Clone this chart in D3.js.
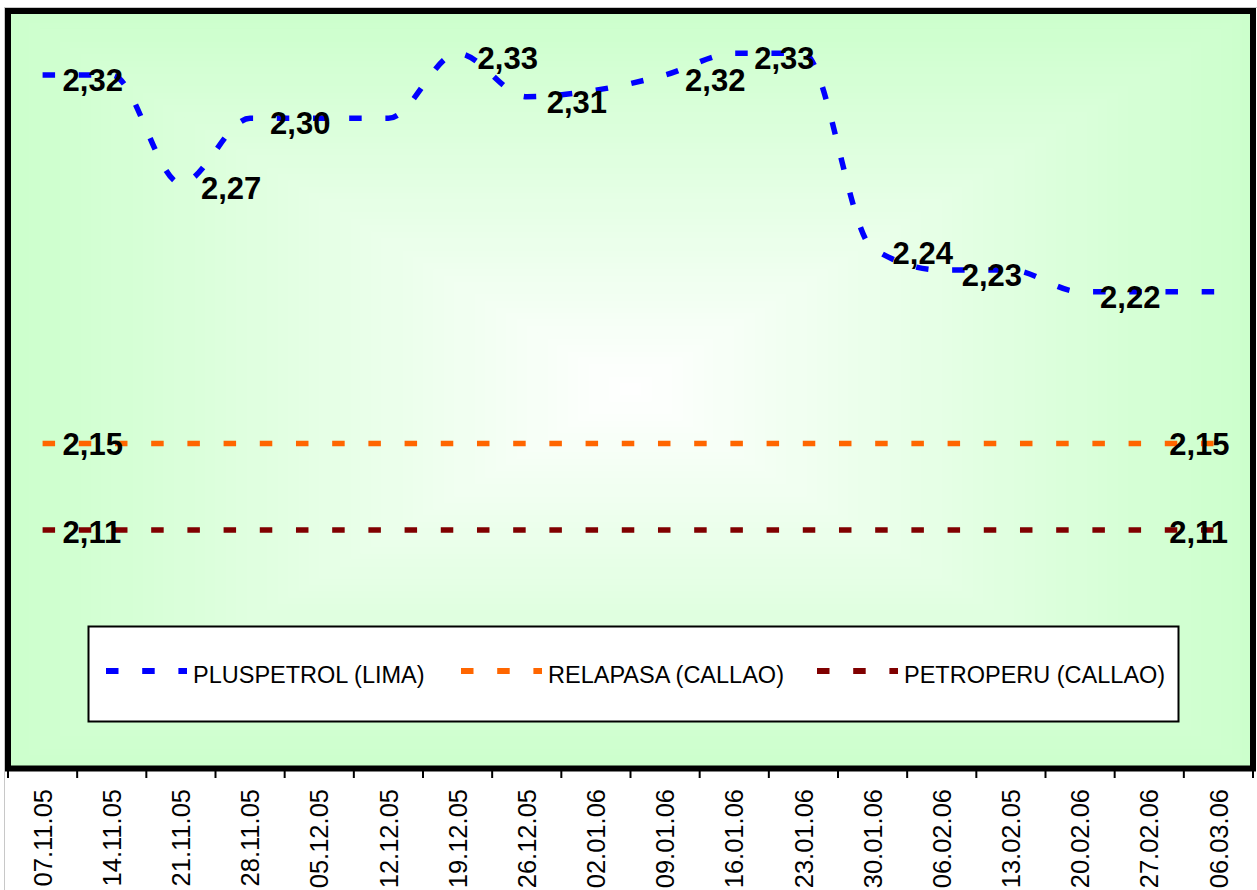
<!DOCTYPE html>
<html>
<head>
<meta charset="utf-8">
<script src="https://cdn.jsdelivr.net/npm/d3@7"></script>
<style>
  body { margin: 0; background: #fff; }
  svg { display: block; font-family: "Liberation Sans", Arial, sans-serif; }
</style>
</head>
<body>
<div id="chart"></div>
<script>
// categories (weeks) and series
const dates = ["07.11.05", "14.11.05", "21.11.05", "28.11.05", "05.12.05", "12.12.05",
  "19.12.05", "26.12.05", "02.01.06", "09.01.06", "16.01.06", "23.01.06",
  "30.01.06", "06.02.06", "13.02.05", "20.02.06", "27.02.06", "06.03.06"];

const pluspetrol = [2.32, 2.32, 2.27, 2.30, 2.30, 2.30, 2.33, 2.31, 2.313, 2.32, 2.33, 2.33,
  2.24, 2.23, 2.23, 2.22, 2.22, 2.22];
const relapasa = [2.15, 2.15, 2.15, 2.15, 2.15, 2.15, 2.15, 2.15, 2.15, 2.15, 2.15, 2.15,
  2.15, 2.15, 2.15, 2.15, 2.15, 2.15];
const petroperu = [2.11, 2.11, 2.11, 2.11, 2.11, 2.11, 2.11, 2.11, 2.11, 2.11, 2.11, 2.11,
  2.11, 2.11, 2.11, 2.11, 2.11, 2.11];

// which points carry a data label
const plusLabels = [0, 2, 3, 6, 7, 9, 10, 12, 13, 15];
const flatLabels = [0, 16];

const seriesNames = ["PLUSPETROL (LIMA)", "RELAPASA (CALLAO)", "PETROPERU (CALLAO)"];

// dimensions
const width = 1257;
const height = 890;

const PLOT_LEFT = 8;
const PLOT_RIGHT = 1253;
const PLOT_TOP = 10;
const PLOT_BOTTOM = 768.5;

const GREEN = "#ccffcc";
const LINE_W = 5.5;
const DASH = "12.5 23.7";

const COLORS = ["#0000ff", "#ff6600", "#800000"];

const svg = d3.select("#chart")
  .append("svg")
  .attr("width", width)
  .attr("height", height);

const x = d3.scaleBand()
  .domain(dates)
  .range([PLOT_LEFT, PLOT_RIGHT]);

const y = d3.scaleLinear()
  .domain([2.0, 2.35])
  .range([PLOT_BOTTOM, PLOT_TOP]);

const cx = (d) => x(d) + x.bandwidth() / 2;

// outer chart area border (thin gray)
svg.append("rect")
  .attr("x", 4.5).attr("y", 7.5)
  .attr("width", width).attr("height", height)
  .attr("fill", "none")
  .attr("stroke", "#c8c8c8")
  .attr("stroke-width", 1);

// ------ rectangular "from center" gradient, built from nested rects ------
const midX = (PLOT_LEFT + PLOT_RIGHT) / 2;
const midY = (PLOT_TOP + PLOT_BOTTOM) / 2;
const halfW = (PLOT_RIGHT - PLOT_LEFT) / 2;
const halfH = (PLOT_BOTTOM - PLOT_TOP) / 2;
const bgColor = d3.interpolateRgb("#ffffff", GREEN);
const STEPS = 60;

const bg = svg.append("g");
d3.range(STEPS, 0, -1).forEach((k) => {
  const t = k / STEPS;
  bg.append("rect")
    .attr("x", midX - halfW * t)
    .attr("y", midY - halfH * t)
    .attr("width", 2 * halfW * t)
    .attr("height", 2 * halfH * t)
    .attr("fill", k === STEPS ? GREEN : bgColor(t));
});

// ------ lines ------
const line = d3.line()
  .x((d, i) => cx(dates[i]))
  .y((d) => y(d))
  .curve(d3.curveMonotoneX);

const flatLine = d3.line()
  .x((d, i) => cx(dates[i]))
  .y((d) => y(d));

[pluspetrol, relapasa, petroperu].forEach((vals, s) => {
  svg.append("path")
    .attr("d", s === 0 ? line(vals) : flatLine(vals))
    .attr("fill", "none")
    .attr("stroke", COLORS[s])
    .attr("stroke-width", LINE_W)
    .attr("stroke-dasharray", DASH);
});

// plot border
svg.append("rect")
  .attr("x", PLOT_LEFT)
  .attr("y", PLOT_TOP + 1)
  .attr("width", PLOT_RIGHT - PLOT_LEFT)
  .attr("height", PLOT_BOTTOM - PLOT_TOP - 1)
  .attr("fill", "none")
  .attr("stroke", "#000")
  .attr("stroke-width", 6);

// ------ data labels ------
const labelFmt = (v) => d3.format(".2f")(v).replace(".", ",");

function addLabels(vals, idx, dy) {
  svg.append("g")
    .selectAll("text")
    .data(idx)
    .enter()
    .append("text")
    .attr("x", (i) => cx(dates[i]) + 20)
    .attr("y", (i) => y(vals[i]) + dy)
    .style("font-size", "31px")
    .style("font-weight", "bold")
    .style("fill", "#000")
    .text((i) => labelFmt(vals[i]));
}
addLabels(pluspetrol, plusLabels, 16);
addLabels(relapasa, flatLabels, 12);
addLabels(petroperu, flatLabels, 13);

// ------ legend ------
const legend = svg.append("g");
legend.append("rect")
  .attr("x", 88.5).attr("y", 626.5)
  .attr("width", 1090).attr("height", 95)
  .attr("fill", "#fff")
  .attr("stroke", "#000")
  .attr("stroke-width", 2);

const legendX = [106, 461, 817];
seriesNames.forEach((name, s) => {
  legend.append("line")
    .attr("x1", legendX[s]).attr("x2", legendX[s] + 81)
    .attr("y1", 671).attr("y2", 671)
    .attr("stroke", COLORS[s])
    .attr("stroke-width", 6)
    .attr("stroke-dasharray", DASH);
  legend.append("text")
    .attr("x", legendX[s] + 87)
    .attr("y", 683)
    .style("font-size", "23.5px")
    .style("fill", "#000")
    .text(name);
});

// ------ category axis ------
const tickPos = dates.map((d) => x(d)).concat([PLOT_RIGHT]);
svg.append("g")
  .selectAll("line")
  .data(tickPos)
  .enter()
  .append("line")
  .attr("x1", (d) => d).attr("x2", (d) => d)
  .attr("y1", PLOT_BOTTOM + 2).attr("y2", 778)
  .attr("stroke", "#000")
  .attr("stroke-width", 2);

svg.append("g")
  .selectAll("text")
  .data(dates)
  .enter()
  .append("text")
  .attr("transform", (d) => `translate(${cx(d)},789) rotate(-90)`)
  .attr("text-anchor", "end")
  .attr("dy", "0.36em")
  .style("font-size", "25.5px")
  .style("fill", "#000")
  .text((d) => d);
</script>
</body>
</html>
